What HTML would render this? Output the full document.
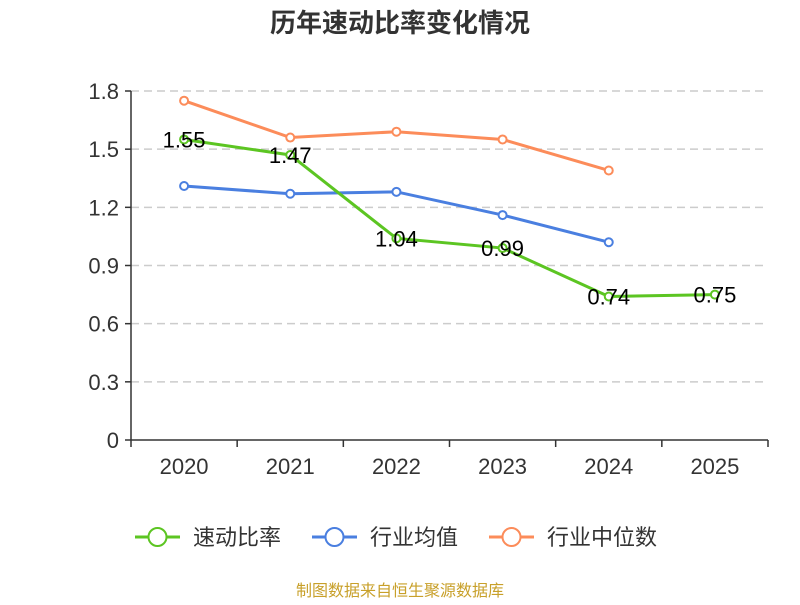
<!DOCTYPE html>
<html><head><meta charset="utf-8"><style>
body{margin:0;background:#fff;font-family:"Liberation Sans","Noto Sans CJK SC",sans-serif}
</style></head><body>
<svg id="c" width="800" height="600" xmlns="http://www.w3.org/2000/svg" font-family="Liberation Sans, Noto Sans CJK SC, sans-serif">
<text x="400" y="32" text-anchor="middle" font-size="26" font-weight="bold" fill="#333">历年速动比率变化情况</text>
<g id="grid"></g><g id="axes"></g><g id="series"></g>
<g id="legend"></g>
<text x="400" y="596" text-anchor="middle" font-size="16" fill="#c8a02a">制图数据来自恒生聚源数据库</text>
</svg>
<script>
const categories=["2020","2021","2022","2023","2024","2025"];
const yTicks=[0,0.3,0.6,0.9,1.2,1.5,1.8];
const tickLabels=["0","0.3","0.6","0.9","1.2","1.5","1.8"];
const quickRatio=[1.55,1.47,1.04,0.99,0.74,0.75];
const industryAvg=[1.31,1.27,1.28,1.16,1.02];
const industryMedian=[1.75,1.56,1.59,1.55,1.39];
const NS="http://www.w3.org/2000/svg";
const X0=131,X1=768,Y0=440,Y1=91;
const bw=(X1-X0)/categories.length;
const x=i=>X0+bw*(i+0.5);
const y=v=>Y0-(v/1.8)*(Y0-Y1);
function mk(tag,at,parent){const e=document.createElementNS(NS,tag);for(const k in at)e.setAttribute(k,at[k]);document.getElementById(parent).appendChild(e);return e;}
yTicks.forEach((t,i)=>{
  if(t>0){const g=mk('line',{x1:X0,x2:X1,y1:y(t),y2:y(t),stroke:'#ccc','stroke-dasharray':'8,5','stroke-width':1.5},'grid');
  
  }
  const tk=mk('line',{x1:X0-6,x2:X0,y1:y(t),y2:y(t),stroke:'#333','stroke-width':1.5},'axes');
  
  
  const l=mk('text',{x:X0-12,y:y(t)+8,'text-anchor':'end','font-size':22,fill:'#333'},'axes');l.textContent=tickLabels[i];
  
  
});
const ya=mk('line',{x1:X0,x2:X0,y1:Y1,y2:Y0,stroke:'#333','stroke-width':1.5},'axes');


const xa=mk('line',{x1:X0,x2:X1,y1:Y0,y2:Y0,stroke:'#333','stroke-width':1.5},'axes');


for(let i=0;i<=categories.length;i++){const t=mk('line',{x1:X0+bw*i,x2:X0+bw*i,y1:Y0,y2:Y0+7,stroke:'#333','stroke-width':1.5},'axes');
  
  }
categories.forEach((c,i)=>{const l=mk('text',{x:x(i),y:Y0+34,'text-anchor':'middle','font-size':22,fill:'#333'},'axes');l.textContent=c;
  
  });
function series(data,color,name,labels){
  const p=mk('polyline',{points:data.map((v,i)=>x(i)+','+y(v)).join(' '),fill:'none',stroke:color,'stroke-width':3},'series');
  
  
  data.forEach((v,i)=>{const c=mk('circle',{cx:x(i),cy:y(v),r:4,fill:'#fff',stroke:color,'stroke-width':2},'series');
    
    
    if(labels){const t=mk('text',{x:x(i),y:y(v)+8,'text-anchor':'middle','font-size':22,fill:'#000'},'series');t.textContent=v.toFixed(2);
      
      }
  });
}
series(industryMedian,'#fc8c5a','industry-median',false);
series(industryAvg,'#4a7fe0','industry-average',false);
series(quickRatio,'#5cc522','quick-ratio',true);
[["速动比率","#5cc522",135],["行业均值","#4a7fe0",312],["行业中位数","#fc8c5a",489]].forEach(([n,c,lx])=>{
  const g=mk('g',{},'legend');
  
  
  const ln=document.createElementNS(NS,'line');ln.setAttribute('x1',lx);ln.setAttribute('x2',lx+45);ln.setAttribute('y1',537);ln.setAttribute('y2',537);ln.setAttribute('stroke',c);ln.setAttribute('stroke-width',3);g.appendChild(ln);
  const ci=document.createElementNS(NS,'circle');ci.setAttribute('cx',lx+22.5);ci.setAttribute('cy',537);ci.setAttribute('r',9);ci.setAttribute('fill','#fff');ci.setAttribute('stroke',c);ci.setAttribute('stroke-width',2);g.appendChild(ci);
  const t=document.createElementNS(NS,'text');t.setAttribute('x',lx+58);t.setAttribute('y',545);t.setAttribute('font-size',22);t.setAttribute('fill','#333');t.textContent=n;g.appendChild(t);
});
</script>
</body></html>
